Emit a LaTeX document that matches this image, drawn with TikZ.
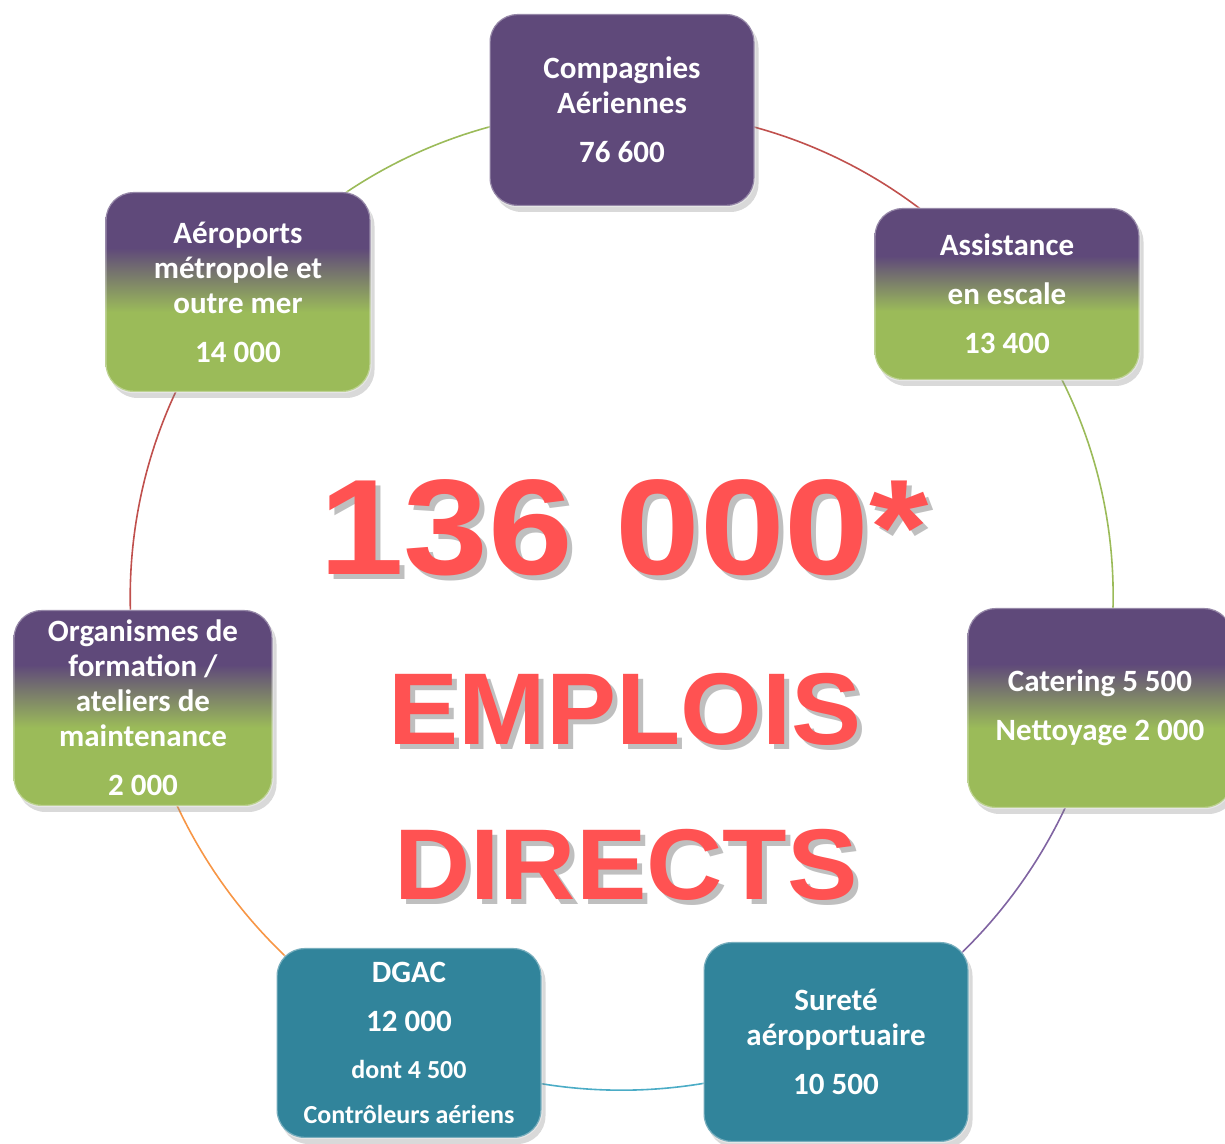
\documentclass[tikz,border=0pt]{standalone}
\usepackage{fontspec}
\setmainfont{Carlito}
\newfontfamily\bigfont{Liberation Sans}
\usetikzlibrary{shadows,backgrounds}

\definecolor{boxpurple}{RGB}{95,73,122}
\definecolor{boxgreen}{RGB}{155,187,89}
\definecolor{boxteal}{RGB}{49,132,155}
\definecolor{linered}{RGB}{192,80,77}
\definecolor{linegreen}{RGB}{155,187,89}
\definecolor{linepurple}{RGB}{128,100,162}
\definecolor{lineteal}{RGB}{75,172,198}
\definecolor{lineorange}{RGB}{247,150,70}
\definecolor{bigred}{RGB}{255,82,82}
\definecolor{shadowgrey}{RGB}{191,191,191}

\pgfdeclareverticalshading{purplegreen}{100bp}{color(0bp)=(boxgreen); color(45bp)=(boxgreen); color(61bp)=(boxpurple); color(100bp)=(boxpurple)}

\tikzset{
  box/.style={rounded corners=14pt, align=center, text=white,
    font=\fontsize{15.5}{17.5}\selectfont\bfseries,
    minimum width=132.5pt, minimum height=96pt, inner sep=0pt,
    draw=white, draw opacity=0.35, line width=1.2pt,
    drop shadow={shadow xshift=2pt, shadow yshift=-3pt, opacity=0.3}},
  purplebox/.style={box, fill=boxpurple},
  mixbox/.style={box, shade, shading=purplegreen},
  tealbox/.style={box, fill=boxteal},
  ring/.style={line width=0.8pt, bend left=26, looseness=0.9},
  bigtxt/.style={anchor=base, transform shape, inner sep=0pt},
}
\newcommand{\smalltxt}{\fontsize{13}{15}\selectfont}

\begin{document}
\begin{tikzpicture}[x=0.5pt, y=0.5pt]
\useasboundingbox (0,0) rectangle (1225,1144);

% boxes on the ring
\node[purplebox] (comp) at (622,1034) {Compagnies\\Aériennes\\[7pt]76 600};
\node[mixbox, minimum height=86pt] (assist) at (1007,850) {Assistance\\[7pt]en escale\\[7pt]13 400};
\node[mixbox, minimum height=100pt] (cater) at (1100,436) {Catering 5 500\\[7pt]Nettoyage 2 000};
\node[tealbox, minimum height=100pt] (surete) at (836,102) {Sureté\\aéroportuaire\\[7pt]10 500};
\node[tealbox, minimum height=95pt] (dgac) at (409,101) {DGAC\\[7pt]12 000\\[6pt]{\smalltxt dont 4 500}\\[5pt]{\smalltxt Contrôleurs aériens}};
\node[mixbox, minimum width=129.5pt, minimum height=98pt] (organ) at (143,436) {Organismes de\\formation /\\ateliers de\\maintenance\\[7pt]2 000};
\node[mixbox, minimum height=100pt] (aero) at (238,852) {Aéroports\\métropole et\\outre mer\\[7pt]14 000};

% ring, behind the boxes
\begin{scope}[on background layer]
\draw[ring, linered] (comp.center) to (assist.center);
\draw[ring, linegreen] (assist.center) to (cater.center);
\draw[ring, linepurple, bend left=25] (cater.center) to (surete.center);
\draw[ring, lineteal, bend left=25] (surete.center) to (dgac.center);
\draw[ring, lineorange, bend left=25] (dgac.center) to (organ.center);
\draw[ring, linered] (organ.center) to (aero.center);
\draw[ring, linegreen] (aero.center) to (comp.center);
\end{scope}

% centre text
\node[bigtxt, xscale=1.12, text=shadowgrey, font=\fontsize{68}{68}\selectfont\bigfont\bfseries] (totals) at (629,564) {136 000*};
\node[bigtxt, xscale=1.12, text=bigred, font=\fontsize{68}{68}\selectfont\bigfont\bfseries] (total) at (624,569) {136 000*};
\node[bigtxt, xscale=1.03, text=shadowgrey, font=\fontsize{51}{51}\selectfont\bigfont\bfseries] (emploiss) at (630,394) {EMPLOIS};
\node[bigtxt, xscale=1.03, text=bigred, font=\fontsize{51}{51}\selectfont\bigfont\bfseries] (emplois) at (625,399) {EMPLOIS};
\node[bigtxt, xscale=1.05, text=shadowgrey, font=\fontsize{50.3}{50}\selectfont\bigfont\bfseries] (directss) at (631,239) {DIRECTS};
\node[bigtxt, xscale=1.05, text=bigred, font=\fontsize{50.3}{50}\selectfont\bigfont\bfseries] (directs) at (626,244) {DIRECTS};
\end{tikzpicture}
\end{document}
